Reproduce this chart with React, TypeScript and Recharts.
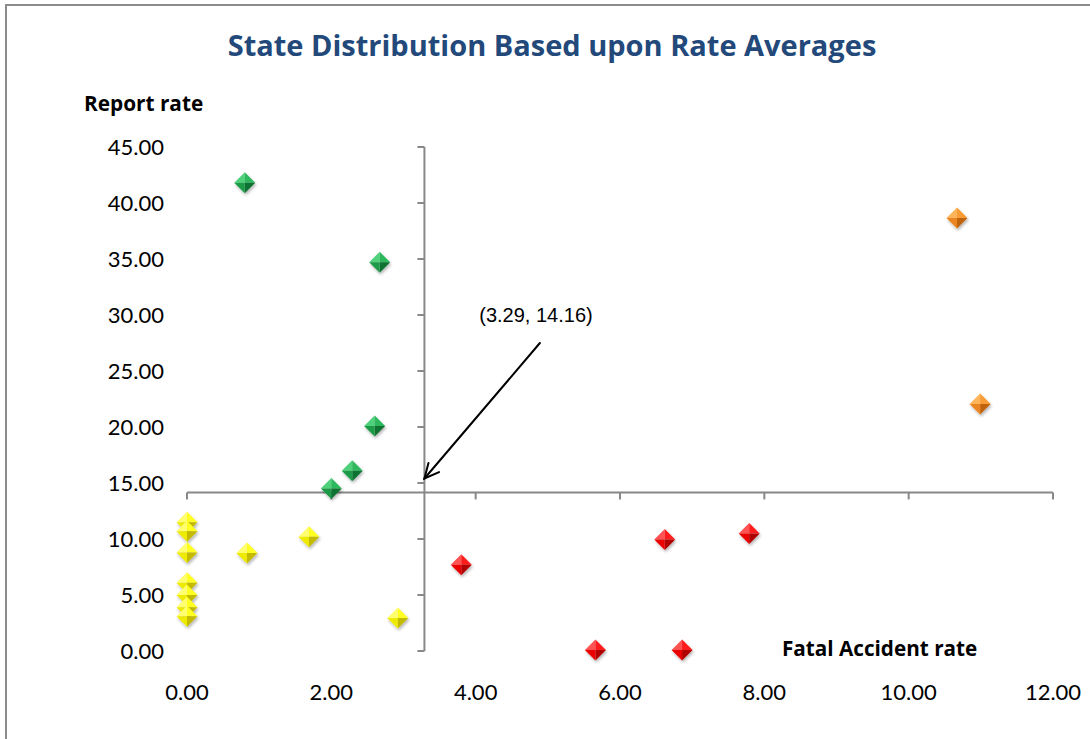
import React from 'react';
import { ScatterChart, Scatter, XAxis, YAxis, ReferenceLine, ReferenceDot } from 'recharts';

// states grouped by quadrant around the rate averages
const greenStates = [
  { x: 0.8, y: 41.8 },
  { x: 2.67, y: 34.7 },
  { x: 2.6, y: 20.1 },
  { x: 2.29, y: 16.1 },
  { x: 2.0, y: 14.5 },
];
const orangeStates = [
  { x: 10.67, y: 38.65 },
  { x: 10.99, y: 22.05 },
];
const redStates = [
  { x: 3.8, y: 7.7 },
  { x: 6.62, y: 9.95 },
  { x: 7.79, y: 10.5 },
  { x: 5.66, y: 0.1 },
  { x: 6.86, y: 0.1 },
];
const yellowStates = [
  { x: 0, y: 11.5 },
  { x: 0, y: 10.7 },
  { x: 0, y: 8.8 },
  { x: 0, y: 6.1 },
  { x: 0, y: 5.0 },
  { x: 0, y: 3.9 },
  { x: 0, y: 3.1 },
  { x: 0.83, y: 8.75 },
  { x: 1.69, y: 10.2 },
  { x: 2.92, y: 2.95 },
];

const xTicks = [0, 2, 4, 6, 8, 10, 12];
const yTicks = [0, 5, 10, 15, 20, 25, 30, 35, 40, 45];

// averages where the two axes cross
const avgFatal = 3.29;
const avgReport = 14.16;
const arrowFrom = { x: 4.89, y: 27.5 };
const arrowTo = { x: 3.29, y: 15.4 };

const TONES: Record<string, string[]> = {
  // light, mid, base, dark
  green: ['#4fd07a', '#2fb85d', '#1c9a46', '#0f7232'],
  orange: ['#ffb45a', '#f89c34', '#ea8620', '#c0640c'],
  red: ['#ff5252', '#ff1c1c', '#ea0000', '#b00000'],
  yellow: ['#ffff70', '#ffff22', '#eeea00', '#c4ba00'],
};

const AXIS_GREY = '#888888';
const TICK_FONT = { fontFamily: 'Lato, sans-serif', fontSize: 22, fill: '#000' };
const HEAD_FONT = '"Open Sans", sans-serif';

function Diamond({ cx, cy, tone }: { cx: number; cy: number; tone: string }) {
  const r = 10.5;
  const [light, mid, base, dark] = TONES[tone];
  const t = `${cx},${cy - r}`;
  const rt = `${cx + r},${cy}`;
  const b = `${cx},${cy + r}`;
  const l = `${cx - r},${cy}`;
  const c = `${cx},${cy}`;
  return (
    <g filter="url(#markerShadow)">
      <polygon points={`${l} ${t} ${c}`} fill={light} />
      <polygon points={`${t} ${rt} ${c}`} fill={mid} />
      <polygon points={`${rt} ${b} ${c}`} fill={dark} />
      <polygon points={`${b} ${l} ${c}`} fill={base} />
    </g>
  );
}

const diamondShape = (tone: string) => (props: any) => <Diamond cx={props.cx} cy={props.cy} tone={tone} />;

// short tick strokes on the crossing axes
const downTick = (props: any) => (
  <line x1={props.cx} y1={props.cy} x2={props.cx} y2={props.cy + 7} stroke={AXIS_GREY} strokeWidth={2} />
);
const leftTick = (props: any) => (
  <line x1={props.cx} y1={props.cy} x2={props.cx - 7} y2={props.cy} stroke={AXIS_GREY} strokeWidth={2} />
);

const arrowShape = (props: any) => {
  const { x1, y1, x2, y2 } = props;
  const ang = Math.atan2(y2 - y1, x2 - x1);
  const len = 16;
  const spread = 0.45;
  const ax = x2 - len * Math.cos(ang - spread);
  const ay = y2 - len * Math.sin(ang - spread);
  const bx = x2 - len * Math.cos(ang + spread);
  const by = y2 - len * Math.sin(ang + spread);
  return (
    <g stroke="#000" strokeWidth={2} fill="none" strokeLinecap="round">
      <line x1={x1} y1={y1} x2={x2} y2={y2} />
      <polyline points={`${ax},${ay} ${x2},${y2} ${bx},${by}`} />
    </g>
  );
};

export default function App() {
  return (
    <div
      style={{
        position: 'absolute',
        left: 0,
        top: 0,
        width: 1090,
        height: 739,
        overflow: 'hidden',
        background: '#fff',
        fontFamily: HEAD_FONT,
      }}
    >
      <div
        style={{
          position: 'absolute',
          left: 5,
          top: 4,
          width: 1200,
          height: 900,
          borderLeft: '2px solid #8c8c8c',
          borderTop: '2px solid #8c8c8c',
        }}
      />
      <div
        style={{
          position: 'absolute',
          left: 0,
          width: 1104,
          top: 25,
          lineHeight: '40px',
          textAlign: 'center',
          fontSize: 29,
          fontWeight: 700,
          color: '#23497b',
        }}
      >
        State Distribution Based upon Rate Averages
      </div>
      <div style={{ position: 'absolute', left: 84, top: 89, lineHeight: '28px', fontSize: 20.8, fontWeight: 700 }}>
        Report rate
      </div>
      <div style={{ position: 'absolute', left: 782, top: 634, lineHeight: '28px', fontSize: 20.7, fontWeight: 700 }}>
        Fatal Accident rate
      </div>
      <div
        style={{
          position: 'absolute',
          left: 436,
          width: 200,
          top: 302,
          lineHeight: '26px',
          textAlign: 'center',
          fontSize: 20,
          fontFamily: '"Liberation Sans", Arial, sans-serif',
        }}
      >
        (3.29, 14.16)
      </div>
      <div style={{ position: 'absolute', left: 0, top: 0 }}>
        <ScatterChart width={1090} height={739} margin={{ top: 147, right: 37, bottom: 48, left: 127 }}>
          <defs>
            <filter id="markerShadow" x="-50%" y="-50%" width="200%" height="200%">
              <feDropShadow dx={1} dy={2} stdDeviation={1.6} floodColor="#000" floodOpacity={0.3} />
            </filter>
          </defs>
          <XAxis
            type="number"
            dataKey="x"
            domain={[0, 12]}
            ticks={xTicks}
            tickFormatter={(v: number) => v.toFixed(2)}
            axisLine={false}
            tickLine={false}
            tickSize={0}
            tickMargin={33}
            height={40}
            tick={TICK_FONT}
            interval={0}
          />
          <YAxis
            type="number"
            dataKey="y"
            domain={[0, 45]}
            ticks={yTicks}
            tickFormatter={(v: number) => v.toFixed(2)}
            axisLine={false}
            tickLine={false}
            tickSize={0}
            tickMargin={23}
            width={60}
            tick={TICK_FONT}
            interval={0}
          />
          <ReferenceLine y={avgReport} stroke={AXIS_GREY} strokeWidth={2} />
          <ReferenceLine x={avgFatal} stroke={AXIS_GREY} strokeWidth={2} />
          {xTicks.map((v) => (
            <ReferenceDot key={`xt${v}`} x={v} y={avgReport} r={0} shape={downTick} />
          ))}
          {yTicks.map((v) => (
            <ReferenceDot key={`yt${v}`} x={avgFatal} y={v} r={0} shape={leftTick} />
          ))}
          <ReferenceLine segment={[arrowFrom, arrowTo]} shape={arrowShape} />
          <Scatter data={yellowStates} shape={diamondShape('yellow')} isAnimationActive={false} />
          <Scatter data={redStates} shape={diamondShape('red')} isAnimationActive={false} />
          <Scatter data={greenStates} shape={diamondShape('green')} isAnimationActive={false} />
          <Scatter data={orangeStates} shape={diamondShape('orange')} isAnimationActive={false} />
        </ScatterChart>
      </div>
    </div>
  );
}
